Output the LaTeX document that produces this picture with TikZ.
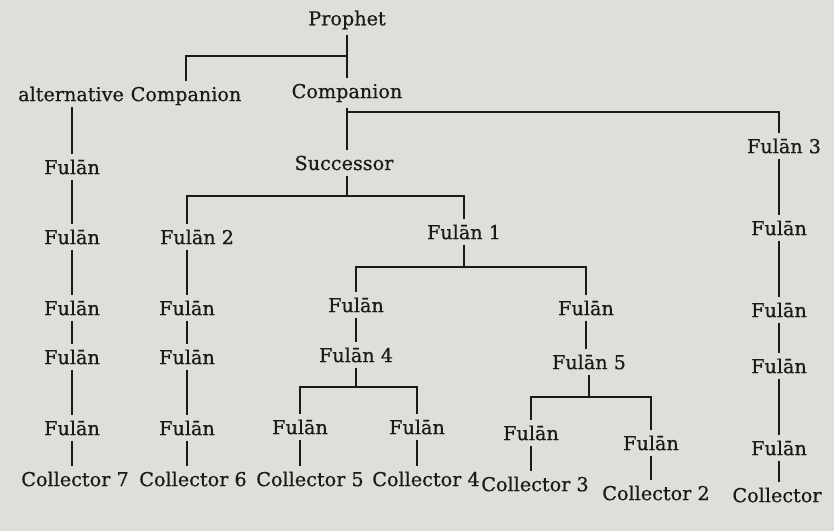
\documentclass[tikz,border=0pt]{standalone}
\usepackage{fontspec}
\setmainfont{DejaVu Serif}[FakeBold=0.6]
\definecolor{paper}{RGB}{224,222,216}
\definecolor{ink}{RGB}{28,26,24}
\begin{document}
\begin{tikzpicture}[x=0.5pt,y=-0.5pt,
  lab/.style={inner xsep=1pt,inner ysep=2.5pt,text=ink,font=\fontsize{9.6}{11}\selectfont},
  link/.style={draw=ink,line width=1.15pt}]
\fill[paper] (0,0) rectangle (834,531);
\useasboundingbox (0,0) rectangle (834,531);
% bar heights
\coordinate (bar1) at (0,56);
\coordinate (bar2) at (0,112);
\coordinate (bar3) at (0,196);
\coordinate (bar4) at (0,267);
\coordinate (bar5) at (0,387);
\coordinate (bar6) at (0,397);
% nodes
\node[lab] (prophet) at (347,20) {Prophet};
\node[lab] (altc) at (186,96) {Companion};
\node[lab,anchor=base east,xshift=-1pt] (alt) at (altc.base west) {alternative};
\node[lab] (comp) at (347,93) {Companion};
\node[lab] (succ) at (344,163) {Successor};
\node[lab] (f3) at (784,146) {Fulān 3};
\node[lab] (fa1) at (72,167) {Fulān};
\node[lab] (fa2) at (72,237) {Fulān};
\node[lab] (f2) at (197,237) {Fulān 2};
\node[lab] (f1) at (464,232) {Fulān 1};
\node[lab] (fr1) at (779,228) {Fulān};
\node[lab] (fa3) at (72,308) {Fulān};
\node[lab] (fb1) at (187,308) {Fulān};
\node[lab] (fl) at (356,305) {Fulān};
\node[lab] (fm) at (586,308) {Fulān};
\node[lab] (fr2) at (779,310) {Fulān};
\node[lab] (fa4) at (72,357) {Fulān};
\node[lab] (fb2) at (187,357) {Fulān};
\node[lab] (f4) at (356,355) {Fulān 4};
\node[lab] (f5) at (589,362) {Fulān 5};
\node[lab] (fr3) at (779,366) {Fulān};
\node[lab] (fa5) at (72,428) {Fulān};
\node[lab] (fb3) at (187,428) {Fulān};
\node[lab] (f4a) at (300,427) {Fulān};
\node[lab] (f4b) at (417,427) {Fulān};
\node[lab] (f5a) at (531,433) {Fulān};
\node[lab] (f5b) at (651,443) {Fulān};
\node[lab] (fr4) at (779,448) {Fulān};
\node[lab] (c7) at (75,479) {Collector 7};
\node[lab] (c6) at (193,479) {Collector 6};
\node[lab] (c5) at (310,479) {Collector 5};
\node[lab] (c4) at (426,479) {Collector 4};
\node[lab] (c3) at (535,484) {Collector 3};
\node[lab] (c2) at (656,493) {Collector 2};
\node[lab] (c1) at (777,495) {Collector};
% connectors
\draw[link] (prophet.south) -- (prophet.south |- comp.north);
\draw[link] (prophet |- bar1) -| (altc.north);
\draw[link] (comp.south) -- (comp.south |- succ.north);
\draw[link] (comp |- bar2) -| (f3.north -| fr1);
\draw[link] (succ.south -| comp) -- (comp |- bar3);
\draw[link] (f2.north -| fb1) |- (f1.north |- bar3) -- (f1.north);
% column A
\draw[link] (alt.south -| fa1) -- (fa1.north);
\draw[link] (fa1) -- (fa2);
\draw[link] (fa2) -- (fa3);
\draw[link] (fa3) -- (fa4);
\draw[link] (fa4) -- (fa5);
\draw[link] (fa5.south) -- (fa5.south |- c7.north);
% column B
\draw[link] (f2.south -| fb1) -- (fb1.north);
\draw[link] (fb1) -- (fb2);
\draw[link] (fb2) -- (fb3);
\draw[link] (fb3.south) -- (fb3.south |- c6.north);
% Fulan 1 branch
\draw[link] (f1.south) -- (f1 |- bar4);
\draw[link] (fl.north) |- (fm.north |- bar4) -- (fm.north);
\draw[link] (fl) -- (f4);
\draw[link] (f4.south) -- (f4 |- bar5);
\draw[link] (f4a.north) |- (f4b.north |- bar5) -- (f4b.north);
\draw[link] (f4a.south) -- (f4a.south |- c5.north);
\draw[link] (f4b.south) -- (f4b.south |- c4.north);
\draw[link] (fm.south) -- (fm.south |- f5.north);
\draw[link] (f5.south) -- (f5 |- bar6);
\draw[link] (f5a.north) |- (f5b.north |- bar6) -- (f5b.north);
\draw[link] (f5a.south) -- (f5a.south |- c3.north);
\draw[link] (f5b.south) -- (f5b.south |- c2.north);
% right column
\draw[link] (f3.south -| fr1) -- (fr1.north);
\draw[link] (fr1) -- (fr2);
\draw[link] (fr2) -- (fr3);
\draw[link] (fr3) -- (fr4);
\draw[link] (fr4.south) -- (fr4.south |- c1.north);
\end{tikzpicture}
\end{document}
